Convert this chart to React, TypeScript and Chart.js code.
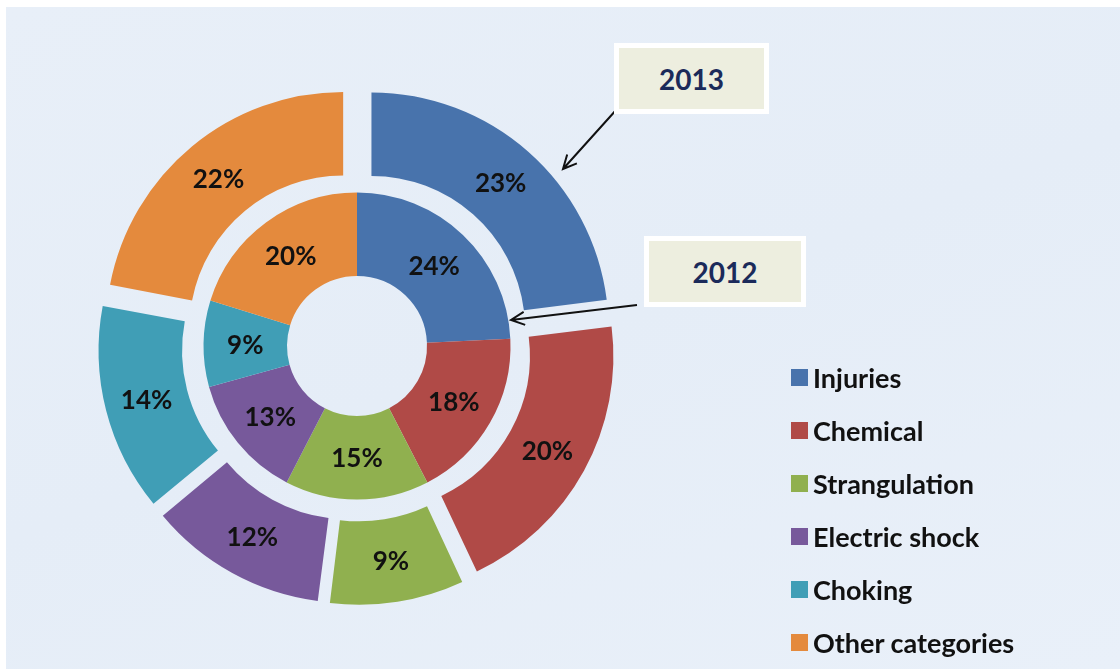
import React, { useEffect, useRef } from "react";
import { Chart, registerables } from "chart.js";

Chart.register(...registerables);

const categories = ["Injuries", "Chemical", "Strangulation", "Electric shock", "Choking", "Other categories"];
const values2013 = [23, 20, 9, 12, 14, 22];
const values2012 = [24, 18, 15, 13, 9, 20];
const colors = ["#4873AC", "#B04A47", "#90B04F", "#77599B", "#409EB6", "#E48A3D"];
const seriesNames = ["2013", "2012"];

const FONT = "Lato, 'Open Sans', sans-serif";
const EXPLODE = 22; // px radial displacement of the outer ring slices

// Chart.js translates an arc by offset/4 and also grows its radii by offset/4*fix;
// pick the offset so the total radial shift is EXPLODE for every slice.
const explodeOffset = (ctx: any) => {
  const data = ctx.dataset.data as number[];
  const total = data.reduce((a, b) => a + b, 0);
  const circ = (data[ctx.dataIndex] / total) * Math.PI * 2;
  const fix = 1 - Math.sin(Math.min(Math.PI, circ));
  return (4 * EXPLODE) / (1 + fix);
};

const labelsPlugin = {
  id: "pctLabels",
  afterDatasetsDraw(chart: any) {
    const ctx = chart.ctx;
    ctx.save();
    ctx.font = `bold 26px ${FONT}`;
    ctx.fillStyle = "#111";
    ctx.textAlign = "center";
    ctx.textBaseline = "middle";
    chart.data.datasets.forEach((ds: any, di: number) => {
      const meta = chart.getDatasetMeta(di);
      meta.data.forEach((arc: any, i: number) => {
        const { x, y, startAngle, endAngle, innerRadius, outerRadius } = arc.getProps(
          ["x", "y", "startAngle", "endAngle", "innerRadius", "outerRadius"],
          true
        );
        const off = di === 0 ? EXPLODE : 0;
        const a = (startAngle + endAngle) / 2;
        const r = (innerRadius + outerRadius) / 2 + off;
        ctx.fillText(ds.data[i] + "%", x + Math.cos(a) * r, y + Math.sin(a) * r + 1);
      });
    });
    ctx.restore();
  },
};

const arrowsPlugin = {
  id: "callArrows",
  afterDraw(chart: any) {
    const ctx = chart.ctx;
    const drawArrow = (x1: number, y1: number, x2: number, y2: number) => {
      ctx.save();
      ctx.strokeStyle = "#111";
      ctx.lineWidth = 2;
      ctx.beginPath();
      ctx.moveTo(x1, y1);
      ctx.lineTo(x2, y2);
      const ang = Math.atan2(y2 - y1, x2 - x1);
      const h = 15;
      ctx.moveTo(x2 - h * Math.cos(ang - 0.45), y2 - h * Math.sin(ang - 0.45));
      ctx.lineTo(x2, y2);
      ctx.lineTo(x2 - h * Math.cos(ang + 0.45), y2 - h * Math.sin(ang + 0.45));
      ctx.stroke();
      ctx.restore();
    };
    drawArrow(617, 109, 563, 169);
    drawArrow(637, 305, 511, 320);
  },
};

export default function App() {
  const ref = useRef<HTMLCanvasElement | null>(null);

  useEffect(() => {
    if (!ref.current) return;
    const chart = new Chart(ref.current, {
      type: "doughnut",
      data: {
        labels: categories,
        datasets: [
          {
            label: seriesNames[0],
            data: values2013,
            backgroundColor: colors,
            borderWidth: 0,
            borderColor: "rgba(0,0,0,0)",
            offset: explodeOffset,
            hoverOffset: 0,
          },
          {
            label: seriesNames[1],
            data: values2012,
            backgroundColor: colors,
            borderWidth: 0,
            borderColor: "rgba(0,0,0,0)",
            offset: 0,
            hoverOffset: 0,
          },
        ],
      },
      options: {
        animation: false,
        responsive: false,
        maintainAspectRatio: false,
        cutout: "29.54%",
        radius: 237,
        layout: { padding: { left: 0, right: 406, top: 23, bottom: 0 } },
        plugins: { legend: { display: false }, tooltip: { enabled: false } },
      } as any,
      plugins: [labelsPlugin, arrowsPlugin],
    });
    return () => chart.destroy();
  }, []);

  const box = (x: number, y: number, w: number, h: number, text: string) => (
    <div
      style={{
        position: "absolute",
        left: x,
        top: y,
        width: w,
        height: h,
        boxSizing: "border-box",
        border: "5px solid #ffffff",
        background: "#EDEEDF",
        display: "flex",
        alignItems: "center",
        justifyContent: "center",
        fontFamily: FONT,
        fontWeight: 700,
        fontSize: 28,
        color: "#1B2A5A",
      }}
    >
      {text}
    </div>
  );

  return (
    <div
      style={{
        position: "fixed",
        left: 0,
        top: 0,
        width: 1120,
        height: 669,
        background: "#ffffff",
        overflow: "hidden",
      }}
    >
      <div
        style={{
          position: "absolute",
          left: 6,
          top: 7,
          width: 1114,
          height: 662,
          background: "linear-gradient(160deg, #E8EFF8 0%, #E5EDF7 50%, #E9F0F9 100%)",
        }}
      />
      <canvas
        ref={ref}
        width={1120}
        height={669}
        style={{ position: "absolute", left: 0, top: 0, width: 1120, height: 669 }}
      />
      {box(614, 43, 155, 71, seriesNames[0])}
      {box(644, 236, 162, 71, seriesNames[1])}
      <div style={{ position: "absolute", left: 791, top: 351, fontFamily: FONT, fontWeight: 700, fontSize: 27, color: "#111" }}>
        {categories.map((c, i) => (
          <div key={c} style={{ display: "flex", alignItems: "center", height: 53 }}>
            <span style={{ display: "inline-block", width: 17, height: 17, background: colors[i], marginRight: 5 }} />
            <span style={{ lineHeight: "32px" }}>{c}</span>
          </div>
        ))}
      </div>
    </div>
  );
}
